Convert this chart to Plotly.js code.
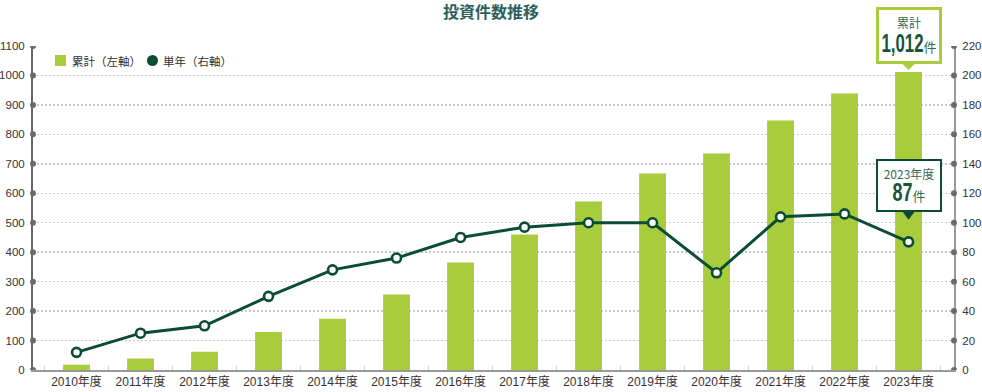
<!DOCTYPE html>
<html>
<head>
<meta charset="utf-8">
<script src="https://cdn.plot.ly/plotly-3.0.1.min.js"></script>
<style>
  html, body { margin: 0; padding: 0; background: #fff; }
  #chart { width: 982px; height: 392px; }
</style>
</head>
<body>
<div id="chart"></div>
<script>
// ---- data ----
const categories = ['2010年度','2011年度','2012年度','2013年度','2014年度','2015年度','2016年度',
                    '2017年度','2018年度','2019年度','2020年度','2021年度','2022年度','2023年度'];
const cumulative = [18, 39, 62, 129, 174, 256, 365, 460, 572, 667, 735, 847, 939, 1012];
const annual     = [12, 25, 30, 50, 68, 76, 90, 97, 100, 100, 66, 104, 106, 87];
const leftTicks  = [0,100,200,300,400,500,600,700,800,900,1000,1100];
const rightTicks = [0,20,40,60,80,100,120,140,160,180,200,220];
const seriesNames = ['累計（左軸）', '単年（右軸）'];
const calloutCum = {label: '累計', value: '1,012', unit: '件'};
const calloutYear = {label: '2023年度', value: '87', unit: '件'};

// ---- styles ----
const BAR = '#a8cc3c';
const LINE = '#0a4d33';
const TXT = '#333333';
const FONT = 'Liberation Sans, Noto Sans CJK JP, sans-serif';
const JP = 'Noto Sans CJK JP, sans-serif';

const lastCat = categories[categories.length - 1];
const lastCum = cumulative[cumulative.length - 1];
const lastAnn = annual[annual.length - 1];

const traces = [
  {
    type: 'bar', x: categories, y: cumulative, name: seriesNames[0],
    marker: {color: BAR}, yaxis: 'y', showlegend: false
  },
  {
    type: 'scatter', mode: 'lines+markers', x: categories, y: annual, yaxis: 'y2', name: seriesNames[1],
    showlegend: false, line: {color: LINE, width: 3},
    marker: {size: 9, color: '#ffffff', line: {color: LINE, width: 2.6}},
    cliponaxis: false
  }
];

const shapes = [];
// tick dots on both axes
leftTicks.forEach(v => shapes.push({
  type: 'circle', xref: 'paper', yref: 'y', xsizemode: 'pixel', ysizemode: 'pixel',
  xanchor: 0, yanchor: v, x0: -3, x1: 3, y0: -3, y1: 3,
  fillcolor: '#6b6b6b', line: {width: 0}, layer: 'above'
}));
rightTicks.forEach(v => shapes.push({
  type: 'circle', xref: 'paper', yref: 'y2', xsizemode: 'pixel', ysizemode: 'pixel',
  xanchor: 1, yanchor: v, x0: -3, x1: 3, y0: -3, y1: 3,
  fillcolor: '#6b6b6b', line: {width: 0}, layer: 'above'
}));
// manual legend symbols
shapes.push({
  type: 'rect', xref: 'paper', yref: 'paper', xsizemode: 'pixel', ysizemode: 'pixel',
  xanchor: 0, yanchor: 1, x0: 22, x1: 33, y0: -20, y1: -9,
  fillcolor: BAR, line: {width: 0}
});
shapes.push({
  type: 'circle', xref: 'paper', yref: 'paper', xsizemode: 'pixel', ysizemode: 'pixel',
  xanchor: 0, yanchor: 1, x0: 114, x1: 125, y0: -20, y1: -9,
  fillcolor: LINE, line: {width: 0}
});
// callout pointers
shapes.push({
  type: 'path', xref: 'x', yref: 'y', xsizemode: 'pixel', ysizemode: 'pixel',
  xanchor: lastCat, yanchor: lastCum, path: 'M-6,8 L6,8 L0,2 Z',
  fillcolor: BAR, line: {width: 0}, layer: 'above'
});
shapes.push({
  type: 'path', xref: 'x', yref: 'y2', xsizemode: 'pixel', ysizemode: 'pixel',
  xanchor: lastCat, yanchor: lastAnn, path: 'M-6,30 L6,30 L0,22 Z',
  fillcolor: LINE, line: {width: 0}, layer: 'above'
});

const calloutText = c =>
  '<span style="font-size:12px;color:#2f6b55">' + c.label + '</span><br>' +
  '<span style="font-size:25px;font-weight:bold;color:#17553a;font-family:Liberation Sans">' + c.value + '</span>' +
  '<span style="font-size:13px;color:#2f6b55">' + c.unit + '</span>';

const annotations = [
  // legend texts
  {xref: 'paper', yref: 'paper', x: 0, y: 1, xshift: 37, yshift: -15, xanchor: 'left', yanchor: 'middle',
   showarrow: false, text: seriesNames[0], font: {family: JP, size: 11.5, color: TXT}},
  {xref: 'paper', yref: 'paper', x: 0, y: 1, xshift: 128, yshift: -15, xanchor: 'left', yanchor: 'middle',
   showarrow: false, text: seriesNames[1], font: {family: JP, size: 11.5, color: TXT}},
  // callout 1
  {xref: 'x', yref: 'y', x: lastCat, y: lastCum, yshift: 7.5, xanchor: 'center', yanchor: 'bottom',
   showarrow: false, text: calloutText(calloutCum), width: 60, height: 51, borderpad: 0, borderwidth: 3,
   bordercolor: BAR, bgcolor: '#ffffff', valign: 'middle', align: 'center',
   font: {family: JP, size: 18, color: '#17553a'}},
  // callout 2
  {xref: 'x', yref: 'y2', x: lastCat, y: lastAnn, yshift: 29.5, xanchor: 'center', yanchor: 'bottom',
   showarrow: false, text: calloutText(calloutYear), width: 62, height: 49, borderpad: 0, borderwidth: 2,
   bordercolor: LINE, bgcolor: '#ffffff', valign: 'middle', align: 'center',
   font: {family: JP, size: 17.5, color: '#17553a'}}
];

const layout = {
  width: 982, height: 392,
  margin: {l: 33, r: 28, t: 46, b: 22},
  paper_bgcolor: '#fff', plot_bgcolor: '#fff',
  font: {family: FONT, size: 12, color: TXT},
  title: {text: '<b>投資件数推移</b>', x: 0.5, xanchor: 'center', y: 0.968, yref: 'container', yanchor: 'middle',
          font: {family: JP, size: 16, color: '#2f5f5a'}},
  bargap: 0.58,
  showlegend: false,
  xaxis: {
    type: 'category', range: [-0.68, 13.71], showgrid: false, zeroline: false,
    showline: true, linecolor: '#999', linewidth: 2,
    ticks: 'inside', tickson: 'boundaries', ticklen: 4, tickcolor: '#ccc', tickwidth: 1,
    tickfont: {family: FONT, size: 12, color: TXT}, fixedrange: true
  },
  yaxis: {
    range: [0, 1100], tickvals: leftTicks, showgrid: true, gridcolor: '#c8c8c8', griddash: '2px,2px', gridwidth: 1.5,
    zeroline: false, showline: true, linecolor: '#666', linewidth: 2, ticks: '',
    ticklabelstandoff: 4, tickfont: {family: FONT, size: 11.5, color: TXT}
  },
  yaxis2: {
    range: [0, 220], tickvals: rightTicks, overlaying: 'y', side: 'right', showgrid: false,
    zeroline: false, showline: true, linecolor: '#999', linewidth: 2, ticks: '',
    ticklabelstandoff: 4, tickfont: {family: FONT, size: 11.5, color: TXT}
  },
  shapes: shapes,
  annotations: annotations
};

// condensed look for the big callout numbers (text stays real text)
const condensedWidths = {};
condensedWidths[calloutCum.value] = 42;
condensedWidths[calloutYear.value] = 20;

Plotly.newPlot('chart', traces, layout, {displayModeBar: false, staticPlot: true}).then(gd => {
  gd.querySelectorAll('.annotation-text tspan').forEach(t => {
    if (t.children.length === 0) {
      const w = condensedWidths[t.textContent];
      if (w) {
        t.setAttribute('textLength', w);
        t.setAttribute('lengthAdjust', 'spacingAndGlyphs');
      }
    }
  });
});
</script>
</body>
</html>
